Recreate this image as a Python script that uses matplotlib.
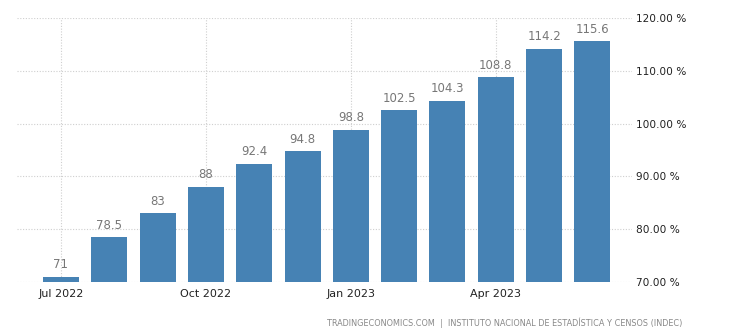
import matplotlib
matplotlib.use("Agg")
import matplotlib.pyplot as plt

months = ["Jul 2022", "Aug 2022", "Sep 2022", "Oct 2022", "Nov 2022", "Dec 2022",
          "Jan 2023", "Feb 2023", "Mar 2023", "Apr 2023", "May 2023", "Jun 2023"]
inflation = [71, 78.5, 83, 88, 92.4, 94.8, 98.8, 102.5, 104.3, 108.8, 114.2, 115.6]
value_labels = ["71", "78.5", "83", "88", "92.4", "94.8", "98.8", "102.5", "104.3", "108.8", "114.2", "115.6"]
xtick_labels = ["Jul 2022", "Oct 2022", "Jan 2023", "Apr 2023"]
yticks = [70, 80, 90, 100, 110, 120]
source = "TRADINGECONOMICS.COM  |  INSTITUTO NACIONAL DE ESTADÍSTICA Y CENSOS (INDEC)"

fig = plt.figure(figsize=(7.49, 3.36), dpi=100)
ax = fig.add_axes([17 / 749, 1 - 282 / 336, (632 - 17) / 749, (282 - 18) / 336])

x = list(range(len(months)))
ax.bar(x, [v - 70 for v in inflation], bottom=70, width=0.745, color="#4682b4", zorder=2)

for xi, v, lab in zip(x, inflation, value_labels):
    ax.annotate(lab, (xi, v), xytext=(0, 4), textcoords="offset points",
                ha="center", va="bottom", fontsize=8.5, color="#777777",
                family="DejaVu Sans")

ax.set_xlim(-0.91, 11.82)
ax.set_ylim(70, 120)

tick_pos = [months.index(m) for m in xtick_labels]
ax.set_xticks(tick_pos)
ax.set_xticklabels(xtick_labels, fontsize=8, color="#222222")
ax.set_yticks(yticks)
ax.set_yticklabels([f"{t:.2f} %" for t in yticks], fontsize=7.6, color="#222222")
ax.yaxis.tick_right()
ax.tick_params(axis="both", length=0)
ax.tick_params(axis="y", pad=3)
ax.tick_params(axis="x", pad=5)

ax.grid(True, axis="both", linestyle=(0, (1, 1.5)), color="#cfcfcf", linewidth=0.8, zorder=0)
for s in ax.spines.values():
    s.set_visible(False)

fig.text(682 / 749, 1 - 323 / 336, source, ha="right", va="center",
         fontsize=5.9, color="#888888")

fig.savefig("out.png", dpi=100)
